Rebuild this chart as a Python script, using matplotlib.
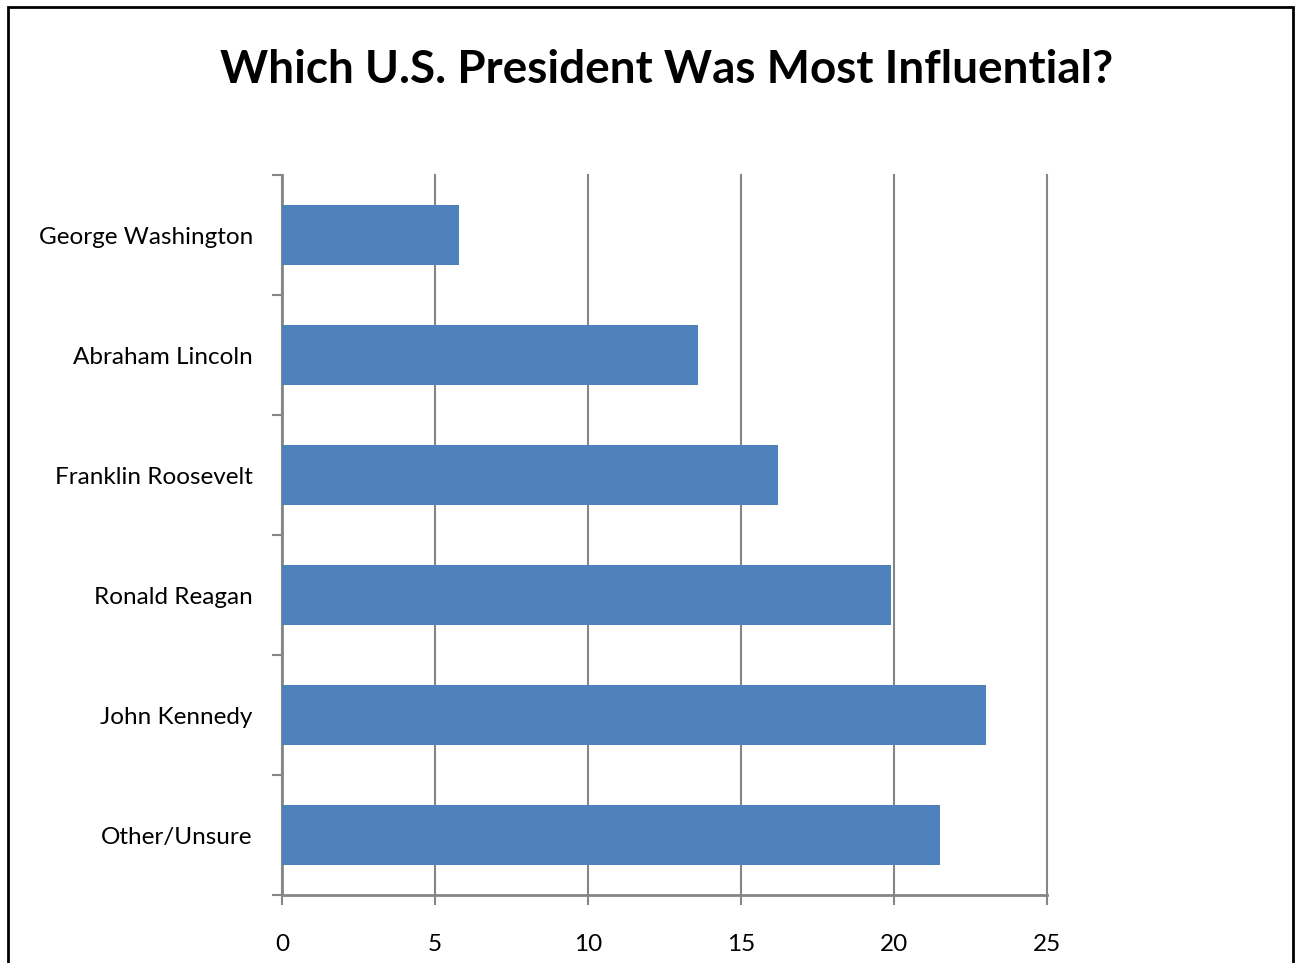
import matplotlib
matplotlib.use('Agg')
import matplotlib.pyplot as plt
from matplotlib.patches import Rectangle

presidents = ['George Washington', 'Abraham Lincoln', 'Franklin Roosevelt',
              'Ronald Reagan', 'John Kennedy', 'Other/Unsure']
votes = [5.8, 13.6, 16.2, 19.9, 23.0, 21.5]
xticks = [0, 5, 10, 15, 20, 25]

plt.rcParams['font.family'] = ['Lato', 'DejaVu Sans']

fig = plt.figure(figsize=(12.96, 9.63), dpi=100)
ax = fig.add_axes([282 / 1296, 1 - 895 / 963, (1047 - 282) / 1296, (895 - 175) / 963])

grey = '#868686'
ypos = list(range(len(presidents)))
ax.barh(ypos, votes, height=0.5, color='#4F81BD', zorder=3)

ax.set_xlim(0, 25)
ax.set_ylim(len(presidents) - 0.5, -0.5)
ax.set_xticks(xticks)
ax.set_xticklabels([str(t) for t in xticks], fontsize=17.5)
ax.xaxis.grid(True, color=grey, linewidth=1.5, zorder=0)
for gl in ax.get_xgridlines():
    gl.set_clip_on(False)

# category labels sit between boundary ticks
ax.set_yticks([i - 0.5 for i in range(len(presidents) + 1)])
ax.set_yticklabels([])
ax.set_yticks(ypos, minor=True)
ax.set_yticklabels(presidents, minor=True, fontsize=17.5)
ax.tick_params(axis='y', which='minor', length=0, pad=21)
ax.tick_params(axis='y', which='major', length=7, width=1.5, color=grey, direction='out')
ax.tick_params(axis='x', length=7, width=1.5, color=grey, direction='out', pad=21)

for side in ['top', 'right']:
    ax.spines[side].set_visible(False)
for side in ['left', 'bottom']:
    ax.spines[side].set_color(grey)
    ax.spines[side].set_linewidth(2)

fig.text(667 / 1296, 1 - 70 / 963, 'Which U.S. President Was Most Influential?',
         ha='center', va='center', fontsize=33, fontweight='bold')

fig.patches.append(Rectangle((8 / 1296, -0.05), (1293 - 8) / 1296, 1 - 7 / 963 + 0.05,
                             transform=fig.transFigure, fill=False,
                             edgecolor='black', linewidth=2))

fig.savefig('out.png', dpi=100)
